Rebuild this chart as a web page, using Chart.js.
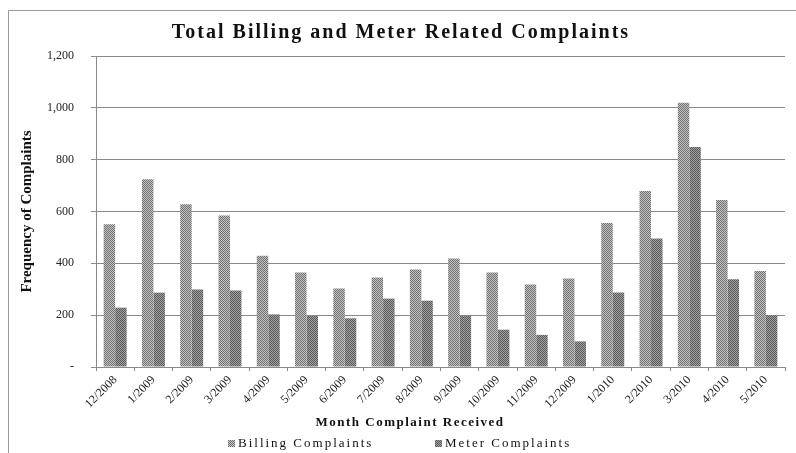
<!DOCTYPE html>
<html>
<head>
<meta charset="utf-8">
<script src="https://cdn.jsdelivr.net/npm/chart.js@4"></script>
<style>
  html, body { margin: 0; padding: 0; background: #fff; }
  #wrap { width: 796px; height: 453px; }
</style>
</head>
<body>
<div id="wrap"><canvas id="complaints-chart" width="796" height="453"></canvas></div>
<script>
const months = ['12/2008', '1/2009', '2/2009', '3/2009', '4/2009', '5/2009', '6/2009', '7/2009', '8/2009',
  '9/2009', '10/2009', '11/2009', '12/2009', '1/2010', '2/2010', '3/2010', '4/2010', '5/2010'];
const billingComplaints = [551, 724, 628, 585, 429, 365, 303, 345, 376, 419, 365, 318, 341, 556, 679, 1020, 644, 370];
const meterComplaints = [229, 287, 299, 295, 203, 197, 188, 264, 256, 197, 144, 124, 99, 287, 496, 849, 339, 200];
const yTicks = [0, 200, 400, 600, 800, 1000, 1200];

const serif = "'Liberation Serif', 'DejaVu Serif', serif";

// dithered grey fill, like the old office print
function dither(light, dark) {
  const c = document.createElement('canvas');
  c.width = 2; c.height = 2;
  const g = c.getContext('2d');
  g.fillStyle = light; g.fillRect(0, 0, 2, 2);
  g.fillStyle = dark; g.fillRect(0, 0, 1, 1); g.fillRect(1, 1, 1, 1);
  return g.createPattern(c, 'repeat');
}
const billingFill = dither('#c4c4c4', '#707070');
const meterFill = dither('#a0a0a0', '#5a5a5a');

function spacedText(ctx, text, x, y, font, spacing) {
  ctx.save();
  ctx.font = font;
  ctx.letterSpacing = spacing;
  ctx.fillStyle = '#111';
  ctx.textAlign = 'center';
  ctx.textBaseline = 'middle';
  ctx.fillText(text, x, y);
  ctx.restore();
}

const decorations = {
  id: 'decorations',
  beforeDraw(chart) {
    const ctx = chart.ctx;
    ctx.save();
    ctx.strokeStyle = '#9a9a9a';
    ctx.lineWidth = 1;
    ctx.beginPath();
    ctx.moveTo(8.5, 460);
    ctx.lineTo(8.5, 10.5);
    ctx.lineTo(800, 10.5);
    ctx.stroke();
    ctx.restore();
  },
  afterDraw(chart) {
    const ctx = chart.ctx;
    spacedText(ctx, 'Total Billing and Meter Related Complaints', 401, 33, 'bold 20px ' + serif, '2px');
    spacedText(ctx, 'Month Complaint Received', 410, 423, 'bold 13px ' + serif, '1.5px');

    // legend
    const items = chart.data.datasets;
    const starts = [228, 435];
    ctx.save();
    ctx.font = '13px ' + serif;
    ctx.letterSpacing = '2px';
    ctx.textBaseline = 'middle';
    ctx.textAlign = 'left';
    items.forEach((ds, i) => {
      ctx.fillStyle = ds.backgroundColor;
      ctx.fillRect(starts[i], 440, 7, 7);
      ctx.fillStyle = '#111';
      ctx.fillText(ds.label, starts[i] + 10, 444);
    });
    ctx.restore();
  }
};

new Chart(document.getElementById('complaints-chart'), {
  type: 'bar',
  data: {
    labels: months,
    datasets: [{
      label: 'Billing Complaints',
      data: billingComplaints,
      backgroundColor: billingFill,
      borderWidth: 0,
      categoryPercentage: 0.6,
      barPercentage: 1.0
    }, {
      label: 'Meter Complaints',
      data: meterComplaints,
      backgroundColor: meterFill,
      borderWidth: 0,
      categoryPercentage: 0.6,
      barPercentage: 1.0
    }]
  },
  options: {
    responsive: false,
    animation: false,
    layout: { padding: { left: 8, right: 11, top: 56, bottom: 40 } },
    plugins: {
      legend: { display: false },
      title: { display: false },
      tooltip: { enabled: false }
    },
    scales: {
      x: {
        afterFit: (scale) => { scale.height = 46; },
        grid: { drawOnChartArea: false, drawTicks: true, tickLength: 4, color: '#8a8a8a', offset: true },
        border: { color: '#8a8a8a' },
        ticks: {
          autoSkip: false,
          maxRotation: 45,
          minRotation: 45,
          padding: 2,
          color: '#222',
          font: { family: serif, size: 12 }
        }
      },
      y: {
        min: 0,
        max: 1200,
        afterFit: (scale) => { scale.width = 88; },
        afterBuildTicks: (scale) => { scale.ticks = yTicks.map(v => ({ value: v })); },
        grid: { color: '#8a8a8a', tickLength: 5 },
        border: { color: '#8a8a8a' },
        title: {
          display: true,
          text: 'Frequency of Complaints',
          color: '#111',
          padding: { top: 10, bottom: 0 },
          font: { family: serif, size: 15, weight: 'bold' }
        },
        ticks: {
          padding: 17,
          color: '#222',
          font: { family: serif, size: 12 },
          callback: (v) => v === 0 ? '-' : v.toLocaleString('en-US')
        }
      }
    }
  },
  plugins: [decorations]
});
</script>
</body>
</html>
